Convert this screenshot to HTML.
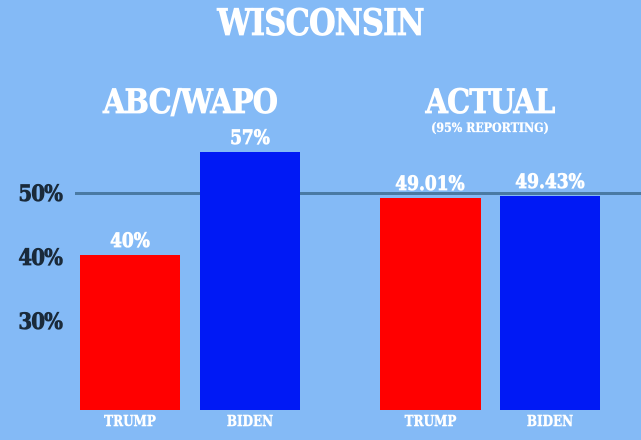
<!DOCTYPE html><html><head><style>
body{margin:0;width:641px;height:440px;background:#84baf6;position:relative;overflow:hidden;font-family:"DejaVu Serif","Liberation Serif",serif;font-weight:bold;}
div{position:absolute}
.w{color:#fff;text-align:center;-webkit-text-stroke:0.8px #fff}
.b{background:#0019f5}.r{background:#ff0000}
.y{color:#1a2a3a;font-size:22px;left:16px;letter-spacing:-1px;transform:scaleX(.9);-webkit-text-stroke:0.8px #1a2a3a}
</style></head><body>
<div class="w" style="left:0;width:641px;top:2px;font-size:36px;letter-spacing:-1px;transform:scaleX(.85)">WISCONSIN</div>
<div class="w" style="left:70px;width:240px;top:82px;font-size:34px;letter-spacing:-1px;transform:scaleX(.85)">ABC/WAPO</div>
<div class="w" style="left:380px;width:220px;top:82px;font-size:34px;letter-spacing:-1px;transform:scaleX(.85)">ACTUAL</div>
<div class="w" style="left:380px;width:220px;top:121px;font-size:13px;transform:scaleX(.85);-webkit-text-stroke:0.3px #fff">(95% REPORTING)</div>
<div style="left:75px;width:566px;top:192px;height:3px;background:#4a7aa3"></div>
<div class="y" style="top:181px">50%</div>
<div class="y" style="top:245px">40%</div>
<div class="y" style="top:309px">30%</div>
<div class="r" style="left:80px;width:100px;top:255px;height:155px"></div>
<div class="b" style="left:200px;width:100px;top:152px;height:258px"></div>
<div class="r" style="left:380px;width:101px;top:198px;height:212px"></div>
<div class="b" style="left:500px;width:100px;top:196px;height:214px"></div>
<div class="w" style="left:80px;width:100px;top:228px;font-size:20px;transform:scaleX(.85)">40%</div>
<div class="w" style="left:200px;width:100px;top:125px;font-size:20px;transform:scaleX(.85)">57%</div>
<div class="w" style="left:370px;width:120px;top:171px;font-size:20px;transform:scaleX(.85)">49.01%</div>
<div class="w" style="left:490px;width:120px;top:169px;font-size:20px;transform:scaleX(.85)">49.43%</div>
<div class="w" style="left:80px;width:100px;top:412px;font-size:15px;transform:scaleX(.8);-webkit-text-stroke:0.4px #fff">TRUMP</div>
<div class="w" style="left:200px;width:100px;top:412px;font-size:15px;transform:scaleX(.8);-webkit-text-stroke:0.4px #fff">BIDEN</div>
<div class="w" style="left:380px;width:101px;top:412px;font-size:15px;transform:scaleX(.8);-webkit-text-stroke:0.4px #fff">TRUMP</div>
<div class="w" style="left:500px;width:100px;top:412px;font-size:15px;transform:scaleX(.8);-webkit-text-stroke:0.4px #fff">BIDEN</div>
</body></html>
